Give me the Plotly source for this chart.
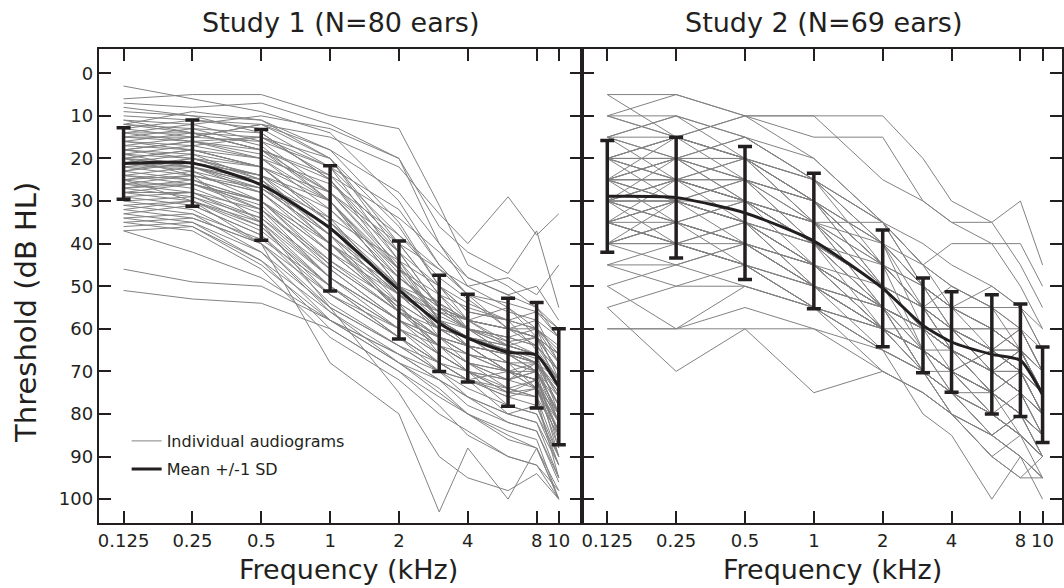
import plotly.graph_objects as go

# ---------------- data ----------------
freqs = [0.125, 0.25, 0.5, 1, 2, 3, 4, 6, 8, 10]
tick_vals = [0.125, 0.25, 0.5, 1, 2, 4, 8, 10]
tick_text = ["0.125", "0.25", "0.5", "1", "2", "4", "8", "10"]
y_ticks = [0, 10, 20, 30, 40, 50, 60, 70, 80, 90, 100]

study1_mean = [21.2, 21.1, 26.2, 36.4, 50.9, 58.7, 62.2, 65.5, 66.2, 73.6]
study1_sd = [8.4, 10.1, 13.0, 14.7, 11.5, 11.3, 10.3, 12.7, 12.4, 13.6]
study2_mean = [28.9, 29.2, 32.8, 39.4, 50.5, 59.2, 63.1, 66.0, 67.4, 75.5]
study2_sd = [13.1, 14.2, 15.6, 15.9, 13.7, 11.1, 11.8, 14.0, 13.2, 11.2]

study1_ears = [
    [3, 6, 9, 14, 30, 45, 52, 60, 58, 68],
    [6, 5, 5, 10, 13, 31, 45, 50, 55, 62],
    [7, 8, 7, 12, 20, 40, 50, 55, 62, 70],
    [9, 10, 11, 18, 35, 50, 58, 55, 60, 66],
    [10, 11, 12, 15, 22, 33, 40, 29, 38, 33],
    [11, 12, 10, 13, 20, 36, 42, 47, 37, 55],
    [12, 9, 11, 20, 42, 55, 60, 66, 68, 75],
    [12, 13, 14, 25, 46, 52, 55, 58, 60, 72],
    [13, 11, 13, 22, 38, 48, 53, 60, 64, 70],
    [13, 15, 12, 18, 28, 40, 48, 52, 55, 60],
    [14, 12, 16, 28, 45, 58, 62, 64, 66, 80],
    [14, 14, 15, 24, 40, 52, 60, 63, 62, 68],
    [15, 13, 17, 30, 50, 60, 62, 65, 68, 78],
    [15, 15, 12, 20, 36, 50, 56, 58, 65, 72],
    [16, 14, 18, 25, 42, 55, 58, 60, 62, 74],
    [16, 17, 20, 32, 48, 55, 60, 66, 70, 82],
    [17, 15, 16, 22, 44, 58, 64, 70, 68, 76],
    [17, 18, 22, 35, 52, 60, 62, 68, 70, 80],
    [18, 16, 19, 28, 46, 54, 60, 62, 64, 70],
    [18, 20, 22, 30, 50, 62, 68, 70, 72, 85],
    [19, 17, 15, 20, 40, 52, 58, 63, 66, 72],
    [19, 20, 24, 38, 52, 58, 62, 64, 66, 74],
    [20, 18, 20, 30, 48, 56, 60, 64, 62, 70],
    [20, 22, 28, 40, 55, 62, 64, 70, 70, 78],
    [21, 19, 22, 35, 50, 58, 62, 65, 67, 76],
    [21, 23, 30, 45, 56, 62, 66, 68, 68, 82],
    [22, 20, 25, 38, 52, 60, 64, 66, 70, 80],
    [22, 24, 28, 42, 55, 64, 68, 72, 70, 88],
    [23, 21, 24, 35, 48, 55, 58, 60, 60, 65],
    [23, 25, 32, 48, 58, 66, 70, 75, 72, 90],
    [24, 22, 26, 40, 54, 60, 62, 65, 68, 75],
    [24, 26, 30, 44, 56, 62, 66, 70, 74, 86],
    [25, 23, 27, 36, 50, 57, 60, 62, 64, 72],
    [25, 27, 33, 48, 60, 68, 72, 80, 78, 92],
    [26, 24, 28, 40, 52, 58, 60, 64, 66, 74],
    [26, 28, 35, 50, 62, 70, 72, 75, 76, 95],
    [27, 25, 30, 42, 55, 62, 66, 68, 70, 80],
    [27, 29, 34, 46, 58, 64, 70, 78, 80, 90],
    [28, 26, 32, 45, 56, 60, 62, 66, 68, 72],
    [28, 30, 36, 52, 62, 68, 72, 74, 72, 85],
    [29, 28, 34, 48, 58, 64, 68, 70, 74, 82],
    [29, 31, 38, 54, 64, 70, 76, 80, 82, 95],
    [30, 29, 36, 50, 60, 66, 70, 72, 70, 80],
    [30, 32, 40, 56, 66, 72, 76, 82, 84, 96],
    [31, 30, 35, 48, 58, 62, 64, 66, 68, 78],
    [31, 33, 42, 58, 68, 74, 80, 84, 86, 100],
    [32, 30, 37, 50, 60, 66, 70, 75, 74, 84],
    [32, 34, 40, 55, 64, 70, 72, 76, 78, 90],
    [33, 31, 38, 52, 62, 68, 72, 70, 72, 82],
    [33, 35, 44, 60, 70, 76, 80, 86, 88, 98],
    [34, 33, 39, 50, 62, 68, 70, 74, 76, 85],
    [34, 36, 45, 58, 66, 70, 74, 78, 80, 92],
    [35, 34, 40, 52, 60, 64, 66, 70, 72, 80],
    [35, 37, 46, 62, 72, 80, 84, 90, 92, 100],
    [36, 35, 42, 55, 64, 68, 72, 76, 74, 88],
    [37, 42, 48, 58, 66, 72, 78, 82, 84, 95],
    [37, 36, 44, 56, 68, 72, 76, 80, 82, 92],
    [46, 49, 50, 58, 68, 75, 80, 85, 88, 100],
    [51, 53, 54, 60, 70, 78, 85, 90, 92, 98],
    [25, 30, 40, 68, 80, 103, 88, 100, 88, 100],
    [20, 24, 35, 55, 75, 90, 95, 98, 94, 100],
    [8, 10, 14, 25, 44, 55, 58, 60, 62, 66],
    [11, 14, 18, 30, 47, 58, 62, 68, 74, 80],
    [14, 16, 20, 26, 38, 46, 52, 56, 58, 62],
    [16, 18, 22, 34, 52, 60, 64, 70, 72, 84],
    [18, 19, 25, 40, 56, 64, 68, 72, 68, 78],
    [19, 22, 27, 38, 50, 54, 58, 60, 62, 70],
    [20, 21, 24, 32, 46, 58, 64, 66, 70, 76],
    [21, 22, 26, 34, 44, 50, 56, 58, 60, 64],
    [22, 22, 25, 36, 54, 66, 70, 72, 74, 84],
    [23, 20, 24, 30, 46, 54, 58, 64, 66, 72],
    [24, 25, 30, 42, 52, 56, 60, 62, 60, 68],
    [25, 24, 27, 38, 56, 64, 68, 74, 76, 90],
    [26, 26, 31, 46, 58, 62, 64, 66, 68, 74],
    [27, 26, 30, 40, 50, 56, 58, 60, 62, 66],
    [28, 28, 32, 44, 54, 60, 64, 70, 72, 82],
    [18, 16, 18, 24, 34, 42, 48, 52, 50, 58],
    [15, 16, 15, 22, 32, 45, 52, 54, 56, 60],
    [12, 14, 18, 28, 40, 46, 50, 48, 52, 45],
    [20, 18, 22, 28, 42, 50, 54, 58, 56, 62],
]

study2_ears = [
    [5, 5, 10, 10, 10, 20, 30, 35, 30, 45],
    [10, 5, 10, 15, 15, 30, 35, 40, 40, 50],
    [10, 15, 10, 10, 25, 30, 35, 35, 45, 55],
    [15, 10, 20, 25, 40, 50, 55, 65, 60, 70],
    [15, 20, 15, 25, 35, 45, 50, 55, 65, 75],
    [15, 15, 20, 30, 45, 55, 60, 70, 75, 80],
    [20, 15, 10, 20, 35, 50, 60, 65, 70, 75],
    [20, 25, 20, 30, 45, 55, 55, 60, 65, 70],
    [20, 20, 25, 35, 50, 60, 65, 70, 75, 85],
    [20, 25, 30, 40, 55, 60, 65, 75, 70, 80],
    [20, 15, 20, 30, 40, 50, 55, 60, 60, 70],
    [25, 20, 15, 25, 35, 45, 55, 60, 65, 75],
    [25, 25, 30, 35, 35, 45, 40, 40, 50, 60],
    [25, 30, 25, 30, 50, 60, 65, 70, 75, 85],
    [25, 20, 25, 40, 55, 65, 70, 65, 70, 80],
    [25, 25, 20, 35, 50, 55, 60, 70, 65, 75],
    [25, 30, 35, 45, 55, 60, 65, 70, 75, 85],
    [25, 20, 30, 40, 50, 55, 60, 65, 70, 80],
    [30, 25, 30, 40, 50, 60, 60, 65, 65, 75],
    [30, 30, 35, 45, 55, 65, 70, 75, 80, 90],
    [30, 35, 30, 35, 45, 50, 55, 60, 65, 70],
    [30, 25, 35, 50, 60, 65, 70, 75, 70, 80],
    [30, 30, 25, 30, 40, 55, 65, 70, 75, 80],
    [30, 35, 40, 45, 55, 60, 65, 70, 65, 75],
    [30, 25, 25, 35, 50, 60, 60, 60, 65, 70],
    [30, 30, 35, 40, 50, 60, 65, 75, 80, 85],
    [35, 30, 35, 45, 55, 60, 65, 70, 70, 80],
    [35, 40, 35, 40, 50, 60, 70, 80, 85, 90],
    [35, 30, 40, 50, 60, 65, 70, 65, 70, 75],
    [35, 35, 30, 35, 45, 55, 60, 65, 60, 70],
    [35, 40, 45, 55, 60, 65, 70, 75, 80, 85],
    [35, 30, 35, 45, 60, 70, 75, 80, 75, 80],
    [40, 35, 40, 50, 55, 60, 60, 65, 70, 75],
    [40, 40, 45, 50, 60, 65, 70, 75, 80, 90],
    [40, 45, 40, 45, 50, 55, 60, 60, 65, 70],
    [40, 35, 45, 55, 65, 70, 75, 85, 80, 85],
    [40, 40, 35, 40, 50, 55, 65, 70, 70, 75],
    [45, 40, 45, 50, 60, 65, 70, 80, 85, 90],
    [50, 45, 40, 50, 55, 60, 65, 70, 75, 80],
    [55, 50, 50, 55, 60, 65, 70, 75, 80, 85],
    [60, 60, 55, 60, 65, 70, 75, 80, 85, 95],
    [55, 70, 60, 75, 70, 75, 80, 85, 80, 90],
    [60, 60, 60, 60, 70, 75, 80, 90, 95, 95],
    [50, 60, 50, 55, 60, 65, 75, 85, 90, 100],
    [10, 10, 15, 20, 35, 50, 60, 70, 75, 80],
    [15, 10, 15, 25, 40, 60, 65, 75, 80, 85],
    [20, 20, 20, 25, 45, 65, 75, 85, 90, 95],
    [25, 25, 30, 35, 55, 70, 80, 90, 95, 90],
    [30, 35, 40, 50, 65, 80, 85, 100, 90, 95],
    [35, 40, 45, 55, 70, 75, 80, 85, 80, 85],
    [20, 25, 25, 30, 40, 45, 50, 55, 60, 70],
    [15, 20, 20, 25, 35, 40, 45, 50, 55, 65],
    [20, 15, 25, 30, 45, 50, 55, 55, 60, 65],
    [25, 30, 30, 40, 45, 55, 50, 55, 55, 60],
    [30, 20, 30, 35, 40, 50, 55, 50, 55, 65],
    [35, 40, 40, 45, 55, 60, 60, 65, 70, 75],
    [40, 35, 40, 50, 60, 65, 65, 70, 75, 80],
    [45, 50, 45, 50, 55, 60, 65, 70, 65, 75],
    [5, 15, 20, 30, 50, 65, 70, 80, 85, 90],
    [10, 15, 20, 35, 55, 70, 75, 80, 85, 90],
    [15, 25, 30, 45, 60, 70, 80, 85, 90, 95],
    [20, 30, 35, 50, 60, 65, 70, 75, 80, 85],
    [25, 35, 40, 45, 55, 60, 60, 65, 70, 80],
    [30, 40, 45, 55, 65, 70, 70, 75, 80, 85],
    [35, 25, 30, 40, 55, 70, 75, 80, 85, 90],
    [40, 30, 35, 45, 60, 70, 80, 90, 85, 90],
    [45, 45, 50, 55, 65, 70, 75, 75, 80, 85],
    [20, 20, 25, 40, 60, 60, 60, 65, 65, 75],
    [25, 15, 20, 30, 45, 55, 65, 75, 85, 90],
]

panel_titles = ["Study 1 (N=80 ears)", "Study 2 (N=69 ears)"]

# ---------------- styling ----------------
W, H = 1064, 588
FONT = "DejaVu Sans"
INK = "#231f20"
GREY = "#828282"

def px_x(p):
    return p / W

def px_y(p):
    return 1 - p / H

fig = go.Figure()

def add_panel(ears, mean, sd, xa, ya, show_legend):
    xs, ys = [], []
    for ear in ears:
        xs.extend(freqs + [None])
        ys.extend(ear + [None])
    fig.add_trace(go.Scatter(
        x=xs, y=ys, mode="lines", xaxis=xa, yaxis=ya,
        line=dict(color=GREY, width=1), connectgaps=False,
        name="Individual audiograms", showlegend=show_legend, legend="legend",
        hoverinfo="skip"))
    fig.add_trace(go.Scatter(
        x=freqs, y=mean, mode="lines", xaxis=xa, yaxis=ya,
        line=dict(color=INK, width=3, shape="spline", smoothing=0.6),
        error_y=dict(type="data", array=sd, visible=True, color=INK,
                     thickness=3.5, width=7),
        name="Mean +/-1 SD", showlegend=show_legend, legend="legend2"))

add_panel(study1_ears, study1_mean, study1_sd, "x", "y", True)
add_panel(study2_ears, study2_mean, study2_sd, "x2", "y2", False)

common_x = dict(type="log", tickmode="array", tickvals=tick_vals, ticktext=tick_text,
                ticks="inside", ticklen=12, tickwidth=2, tickcolor=INK,
                showline=True, linecolor=INK, linewidth=2, mirror="ticks",
                showgrid=False, zeroline=False,
                tickfont=dict(family=FONT, size=18, color=INK))
common_y = dict(range=[105.6, -5.7], tickmode="array", tickvals=y_ticks,
                domain=[px_y(523), px_y(49)],
                ticks="inside", ticklen=12, tickwidth=2, tickcolor=INK,
                showline=True, linecolor=INK, linewidth=2, mirror="ticks",
                showgrid=False, zeroline=False,
                tickfont=dict(family=FONT, size=18, color=INK))

fig.update_layout(
    width=W, height=H,
    margin=dict(l=0, r=0, t=0, b=0),
    paper_bgcolor="white", plot_bgcolor="white",
    xaxis=dict(common_x, domain=[px_x(98), px_x(583)], range=[-1.0118, 1.103], anchor="y"),
    xaxis2=dict(common_x, domain=[px_x(583), 1.0], range=[-1.0121, 1.0849], anchor="y2"),
    yaxis=dict(common_y, anchor="x", showticklabels=True),
    yaxis2=dict(common_y, anchor="x2", showticklabels=False),
    legend=dict(x=px_x(126), y=px_y(441), xanchor="left", yanchor="middle",
                bgcolor="rgba(0,0,0,0)", font=dict(family=FONT, size=16, color=INK)),
    legend2=dict(x=px_x(126), y=px_y(469), xanchor="left", yanchor="middle",
                 bgcolor="rgba(0,0,0,0)", font=dict(family=FONT, size=16, color=INK)),
    showlegend=True,
)

def label(text, x, y, size, angle=0):
    return dict(text=text, x=px_x(x), y=px_y(y), xref="paper", yref="paper",
                xanchor="center", yanchor="middle", showarrow=False,
                textangle=angle, font=dict(family=FONT, size=size, color=INK))

annotations = [
    label(panel_titles[0], 340, 22, 27),
    label(panel_titles[1], 825, 22, 27),
    label("Frequency (kHz)", 348, 569, 27),
    label("Frequency (kHz)", 834, 569, 27),
    label("Threshold (dB HL)", 25, 312, 29, -90),
]
fig.update_layout(annotations=annotations)

fig.write_html("out.html")
